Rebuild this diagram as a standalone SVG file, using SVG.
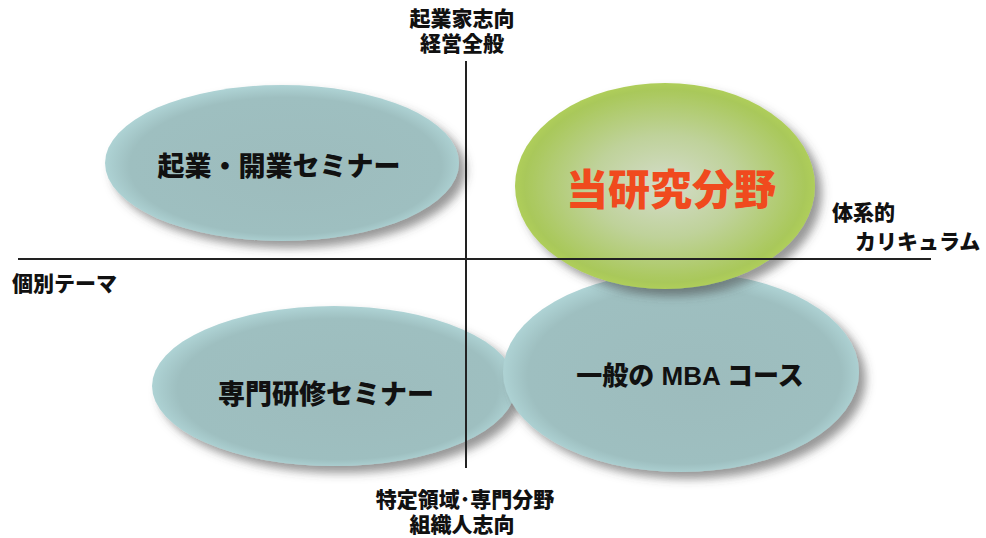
<svg xmlns="http://www.w3.org/2000/svg" width="986" height="538" viewBox="0 0 986 538">
<defs>
<style>
text{font-family:"Liberation Sans","Noto Sans CJK JP",sans-serif;font-weight:900;fill:#111;}
.ax{font-size:21px;}
.nd{font-size:27px;text-anchor:middle;}
.lbl{text-anchor:middle;}
.line{stroke:#222;stroke-width:2;}
</style>
<radialGradient id="teal" cx="0.5" cy="0.5" r="0.55" fx="0.55" fy="0.6">
<stop offset="0" stop-color="#9dbcbd"/>
<stop offset="0.8" stop-color="#9ebfc0"/>
<stop offset="1" stop-color="#b9e0e2"/>
</radialGradient>
<radialGradient id="green" cx="0.5" cy="0.5" r="0.55" fx="0.5" fy="0.5">
<stop offset="0" stop-color="#d4dcca"/>
<stop offset="0.45" stop-color="#bfd29a"/>
<stop offset="0.85" stop-color="#a9c85a"/>
<stop offset="1" stop-color="#b8d75a"/>
</radialGradient>
<filter id="sh" x="-20%" y="-20%" width="150%" height="150%">
<feDropShadow dx="7" dy="7" stdDeviation="5" flood-color="#444" flood-opacity="0.55"/>
</filter>
</defs>
<g id="node-entre">
<ellipse cx="282" cy="163" rx="177" ry="78" fill="url(#teal)" filter="url(#sh)"/>
<text class="nd" x="279" y="176">起業・開業セミナー</text>
</g>
<g id="node-specialist">
<ellipse cx="334" cy="386" rx="182" ry="80" fill="url(#teal)" filter="url(#sh)"/>
<text class="nd" x="326" y="404">専門研修セミナー</text>
</g>
<g id="node-mba">
<ellipse cx="681" cy="372" rx="178" ry="100" fill="url(#teal)" filter="url(#sh)"/>
<text class="nd" x="690" y="385" style="font-size:26px">一般の MBA コース</text>
</g>
<g id="node-research">
<ellipse cx="665" cy="186" rx="150" ry="103" fill="url(#green)" filter="url(#sh)"/>
<text x="671" y="205" style="font-size:42px;text-anchor:middle;fill:#f04a1e">当研究分野</text>
</g>
<g id="connectors">
<line class="line" x1="18" y1="259" x2="931" y2="259"/>
<line class="line" x1="466" y1="61" x2="466" y2="468"/>
</g>
<g id="axis-labels">
<text class="ax lbl" x="462" y="26">起業家志向</text>
<text class="ax lbl" x="462" y="51">経営全般</text>
<text class="ax lbl" x="465" y="507">特定領域･専門分野</text>
<text class="ax lbl" x="462" y="532">組織人志向</text>
<text class="ax" x="12" y="291">個別テーマ</text>
<text class="ax" x="832" y="220">体系的</text>
<text class="ax" x="855" y="249">カリキュラム</text>
</g>
</svg>
